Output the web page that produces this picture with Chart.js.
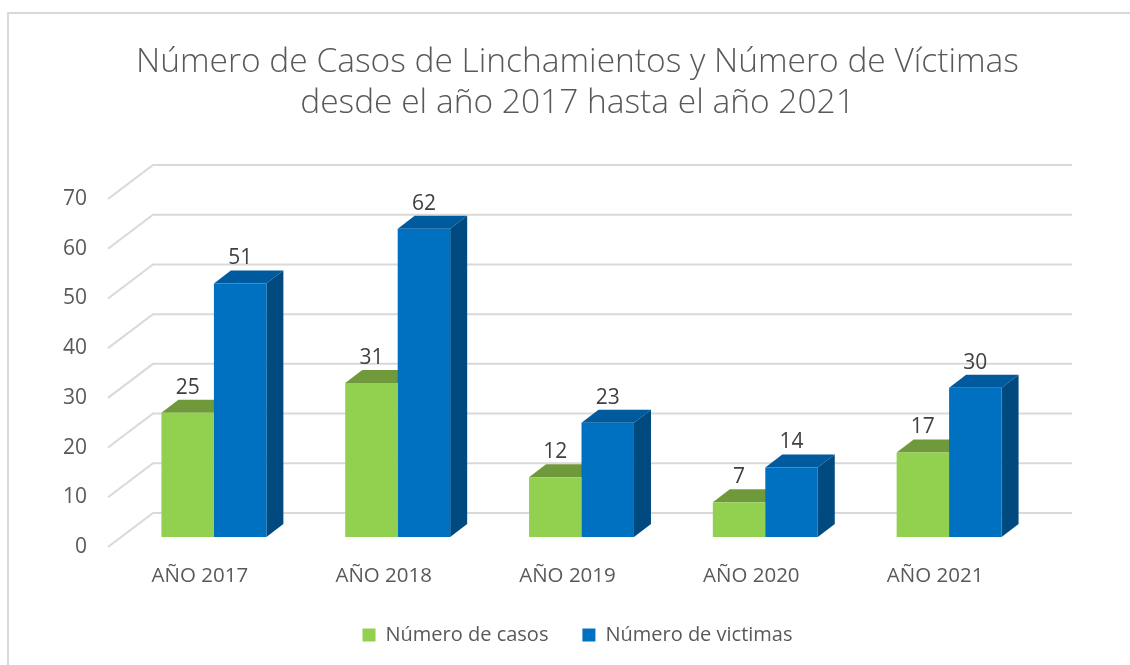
<!DOCTYPE html>
<html>
<head>
<meta charset="utf-8">
<script src="https://cdn.jsdelivr.net/npm/chart.js@4.4.0/dist/chart.umd.min.js"></script>
<style>
  html, body { margin: 0; padding: 0; background: #fff; }
  canvas { display: block; }
</style>
</head>
<body>
<canvas id="myChart" width="1130" height="665"></canvas>
<script>
var years = ["AÑO 2017", "AÑO 2018", "AÑO 2019", "AÑO 2020", "AÑO 2021"];
var casos = [25, 31, 12, 7, 17];
var victimas = [51, 62, 23, 14, 30];
var seriesNames = ["Número de casos", "Número de victimas"];
var titleLines = ["Número de Casos de Linchamientos y Número de Víctimas", "desde el año 2017 hasta el año 2021"];
var yMax = 70;
var yStep = 10;

// fake 3d: depth of the bars, and where the back wall / front edge sit
var barDepth = { x: 17, y: -13 };
var wallBack = { x: 31, y: -24 };
var wallFront = { x: -14, y: 10 };
var shade = [
  { top: "#70993c", side: "#5f8533" },
  { top: "#005a9e", side: "#004a80" }
];

var frame3d = {
  id: "frame3d",
  beforeDraw: function (chart) {
    var ctx = chart.ctx;
    ctx.save();
    ctx.fillStyle = "#ffffff";
    ctx.fillRect(0, 0, chart.width, chart.height);
    // outer border of the excel chart (only top and left show)
    ctx.fillStyle = "#d9d9d9";
    ctx.fillRect(7, 12, chart.width, 2);
    ctx.fillRect(7, 12, 2, chart.height);
    ctx.restore();
  },
  beforeDatasetsDraw: function (chart) {
    var ctx = chart.ctx;
    var area = chart.chartArea;
    var y = chart.scales.y;
    ctx.save();
    ctx.strokeStyle = "#d9d9d9";
    ctx.lineWidth = 2;
    y.ticks.forEach(function (t) {
      var py = y.getPixelForValue(t.value);
      ctx.beginPath();
      ctx.moveTo(area.left + wallFront.x, py + wallFront.y);
      ctx.lineTo(area.left + wallBack.x, py + wallBack.y);
      ctx.lineTo(area.right + wallBack.x, py + wallBack.y);
      ctx.stroke();
    });
    // top + side faces first, the front faces get drawn over them
    chart.data.datasets.forEach(function (ds, i) {
      chart.getDatasetMeta(i).data.forEach(function (bar) {
        var p = bar.getProps(["x", "y", "base", "width"], true);
        var l = p.x - p.width / 2;
        var r = p.x + p.width / 2;
        ctx.fillStyle = shade[i].top;
        ctx.beginPath();
        ctx.moveTo(l, p.y);
        ctx.lineTo(l + barDepth.x, p.y + barDepth.y);
        ctx.lineTo(r + barDepth.x, p.y + barDepth.y);
        ctx.lineTo(r, p.y);
        ctx.closePath();
        ctx.fill();
        ctx.fillStyle = shade[i].side;
        ctx.beginPath();
        ctx.moveTo(r, p.y);
        ctx.lineTo(r + barDepth.x, p.y + barDepth.y);
        ctx.lineTo(r + barDepth.x, p.base + barDepth.y);
        ctx.lineTo(r, p.base);
        ctx.closePath();
        ctx.fill();
      });
    });
    ctx.restore();
  },
  afterDatasetsDraw: function (chart) {
    var ctx = chart.ctx;
    ctx.save();
    ctx.font = "21px 'Open Sans'";
    ctx.fillStyle = "#404040";
    ctx.textAlign = "center";
    ctx.textBaseline = "middle";
    chart.data.datasets.forEach(function (ds, i) {
      chart.getDatasetMeta(i).data.forEach(function (bar, j) {
        var p = bar.getProps(["x", "y"], true);
        ctx.fillText(ds.data[j], p.x, p.y - 25);
      });
    });
    ctx.restore();
  }
};

Chart.defaults.font.family = "'Open Sans', sans-serif";
Chart.defaults.color = "#595959";

var ctx = document.getElementById("myChart").getContext("2d");
var myChart = new Chart(ctx, {
  type: "bar",
  data: {
    labels: years,
    datasets: [
      {
        label: seriesNames[0],
        data: casos,
        backgroundColor: "#92d050",
        borderWidth: 0,
        categoryPercentage: 0.571,
        barPercentage: 1
      },
      {
        label: seriesNames[1],
        data: victimas,
        backgroundColor: "#0070c0",
        borderWidth: 0,
        categoryPercentage: 0.571,
        barPercentage: 1
      }
    ]
  },
  options: {
    responsive: false,
    animation: false,
    layout: { padding: { left: 25, right: 0, top: 0, bottom: 10 } },
    scales: {
      x: {
        grid: { display: false, drawTicks: false },
        border: { display: false },
        ticks: { padding: 27, labelOffset: -14, font: { size: 20.5 }, color: "#595959" },
        afterFit: function (s) { s.height = 54; }
      },
      y: {
        min: 0,
        max: yMax,
        grid: { display: false, drawTicks: false },
        border: { display: false },
        ticks: { stepSize: yStep, padding: 35, labelOffset: 10, font: { size: 21 }, color: "#595959" },
        afterFit: function (s) { s.width = 97; }
      },
      yR: {
        type: "linear",
        position: "right",
        grid: { display: false, drawTicks: false },
        border: { display: false },
        ticks: { display: false },
        afterFit: function (s) { s.width = 89; }
      }
    },
    plugins: {
      title: {
        display: true,
        text: titleLines,
        color: "#595959",
        font: { size: 33.5, weight: "300", lineHeight: 1.224 },
        padding: { top: 41.5, bottom: 65.5 }
      },
      legend: {
        position: "bottom",
        labels: {
          boxWidth: 13,
          boxHeight: 13,
          padding: 34,
          font: { size: 20 },
          color: "#595959"
        }
      },
      tooltip: { enabled: false }
    }
  },
  plugins: [frame3d]
});
</script>
</body>
</html>
